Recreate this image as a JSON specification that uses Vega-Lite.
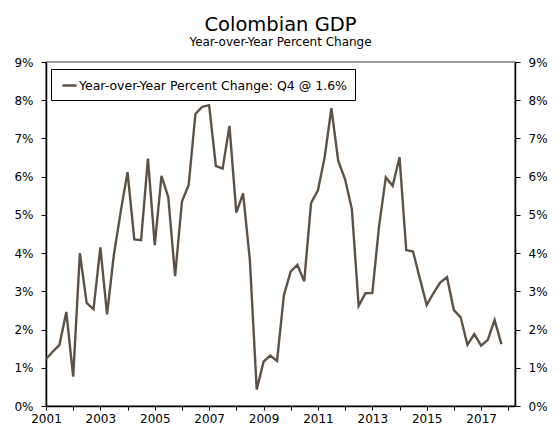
{
  "$schema": "https://vega.github.io/schema/vega-lite/v6.json",
  "autosize": "none",
  "width": 469,
  "height": 344,
  "padding": {"left": 46, "top": 62, "right": 44, "bottom": 21},
  "background": "white",
  "title": {
    "text": "Colombian GDP",
    "subtitle": "Year-over-Year Percent Change",
    "fontSize": 19.5,
    "subtitleFontSize": 12,
    "font": "DejaVu Sans",
    "subtitleFont": "DejaVu Sans",
    "fontWeight": "normal",
    "color": "black",
    "subtitleColor": "black",
    "anchor": "middle",
    "offset": 7,
    "subtitlePadding": 2
  },
  "config": {
    "view": {"stroke": "#808080", "strokeWidth": 1.5},
    "axis": {
      "labelFont": "DejaVu Sans",
      "labelFontSize": 12,
      "labelColor": "black",
      "domainColor": "black",
      "domainWidth": 1.5,
      "tickColor": "black",
      "tickWidth": 1,
      "grid": false,
      "title": null
    }
  },
  "data": {
    "values": [
      {"date": "2001-01-01", "v": 1.23},
      {"date": "2001-04-01", "v": 1.42},
      {"date": "2001-07-01", "v": 1.6},
      {"date": "2001-10-01", "v": 2.46},
      {"date": "2002-01-01", "v": 0.77},
      {"date": "2002-04-01", "v": 4.0},
      {"date": "2002-07-01", "v": 2.7},
      {"date": "2002-10-01", "v": 2.53},
      {"date": "2003-01-01", "v": 4.15},
      {"date": "2003-04-01", "v": 2.4},
      {"date": "2003-07-01", "v": 3.95},
      {"date": "2003-10-01", "v": 5.08},
      {"date": "2004-01-01", "v": 6.12},
      {"date": "2004-04-01", "v": 4.36},
      {"date": "2004-07-01", "v": 4.34},
      {"date": "2004-10-01", "v": 6.47},
      {"date": "2005-01-01", "v": 4.21},
      {"date": "2005-04-01", "v": 6.02},
      {"date": "2005-07-01", "v": 5.47},
      {"date": "2005-10-01", "v": 3.4},
      {"date": "2006-01-01", "v": 5.35},
      {"date": "2006-04-01", "v": 5.78},
      {"date": "2006-07-01", "v": 7.64},
      {"date": "2006-10-01", "v": 7.83},
      {"date": "2007-01-01", "v": 7.87},
      {"date": "2007-04-01", "v": 6.28},
      {"date": "2007-07-01", "v": 6.21},
      {"date": "2007-10-01", "v": 7.33},
      {"date": "2008-01-01", "v": 5.06},
      {"date": "2008-04-01", "v": 5.56},
      {"date": "2008-07-01", "v": 3.82},
      {"date": "2008-10-01", "v": 0.43},
      {"date": "2009-01-01", "v": 1.16},
      {"date": "2009-04-01", "v": 1.32},
      {"date": "2009-07-01", "v": 1.18},
      {"date": "2009-10-01", "v": 2.9},
      {"date": "2010-01-01", "v": 3.52},
      {"date": "2010-04-01", "v": 3.69},
      {"date": "2010-07-01", "v": 3.26},
      {"date": "2010-10-01", "v": 5.31},
      {"date": "2011-01-01", "v": 5.64},
      {"date": "2011-04-01", "v": 6.5},
      {"date": "2011-07-01", "v": 7.79},
      {"date": "2011-10-01", "v": 6.41},
      {"date": "2012-01-01", "v": 5.93},
      {"date": "2012-04-01", "v": 5.15},
      {"date": "2012-07-01", "v": 2.62},
      {"date": "2012-10-01", "v": 2.95},
      {"date": "2013-01-01", "v": 2.96},
      {"date": "2013-04-01", "v": 4.7},
      {"date": "2013-07-01", "v": 5.98},
      {"date": "2013-10-01", "v": 5.76},
      {"date": "2014-01-01", "v": 6.51},
      {"date": "2014-04-01", "v": 4.08},
      {"date": "2014-07-01", "v": 4.04},
      {"date": "2014-10-01", "v": 3.34},
      {"date": "2015-01-01", "v": 2.64},
      {"date": "2015-04-01", "v": 2.95},
      {"date": "2015-07-01", "v": 3.23},
      {"date": "2015-10-01", "v": 3.37},
      {"date": "2016-01-01", "v": 2.51},
      {"date": "2016-04-01", "v": 2.32},
      {"date": "2016-07-01", "v": 1.6},
      {"date": "2016-10-01", "v": 1.88},
      {"date": "2017-01-01", "v": 1.58},
      {"date": "2017-04-01", "v": 1.73},
      {"date": "2017-07-01", "v": 2.25},
      {"date": "2017-10-01", "v": 1.62}
    ]
  },
  "encoding": {
    "x": {
      "field": "date",
      "type": "temporal",
      "scale": {"type": "utc", "domain": ["2001-01-01", "2018-04-01"], "nice": false},
      "axis": {
        "tickCount": {"interval": "year", "step": 1},
        "labelExpr": "utcyear(datum.value) % 2 == 1 ? utcFormat(datum.value, '%Y') : ''",
        "tickSize": 4,
        "labelPadding": 3,
        "labelFlush": false,
        "labelOverlap": false
      }
    },
    "y": {
      "field": "v",
      "type": "quantitative",
      "scale": {"domain": [0, 9], "nice": false, "zero": true}
    }
  },
  "layer": [
    {
      "mark": {"type": "line", "strokeWidth": 2.4, "strokeJoin": "miter"},
      "encoding": {
        "y": {
          "field": "v",
          "type": "quantitative",
          "axis": {
            "orient": "left",
            "values": [0, 1, 2, 3, 4, 5, 6, 7, 8, 9],
            "labelExpr": "datum.value + '%'",
            "tickSize": 5,
            "labelPadding": 8
          }
        },
        "color": {
          "datum": "Year-over-Year Percent Change: Q4 @ 1.6%",
          "type": "nominal",
          "scale": {"range": ["#5e5246"]},
          "legend": {
            "title": null,
            "orient": "none",
            "legendX": 5,
            "legendY": 7,
            "strokeColor": "black",
            "fillColor": "white",
            "padding": 8,
            "symbolType": "stroke",
            "symbolStrokeWidth": 2.5,
            "symbolSize": 200,
            "symbolOffset": 2,
            "labelOffset": 1,
            "labelFont": "DejaVu Sans",
            "labelFontSize": 12.5,
            "labelColor": "black",
            "labelLimit": 400
          }
        }
      }
    },
    {
      "mark": {"type": "line", "opacity": 0},
      "encoding": {
        "y": {
          "field": "v",
          "type": "quantitative",
          "axis": {
            "orient": "right",
            "values": [0, 1, 2, 3, 4, 5, 6, 7, 8, 9],
            "labelExpr": "datum.value + '%'",
            "tickSize": 5,
            "labelPadding": 8
          }
        }
      }
    }
  ],
  "resolve": {"axis": {"y": "independent"}}
}
